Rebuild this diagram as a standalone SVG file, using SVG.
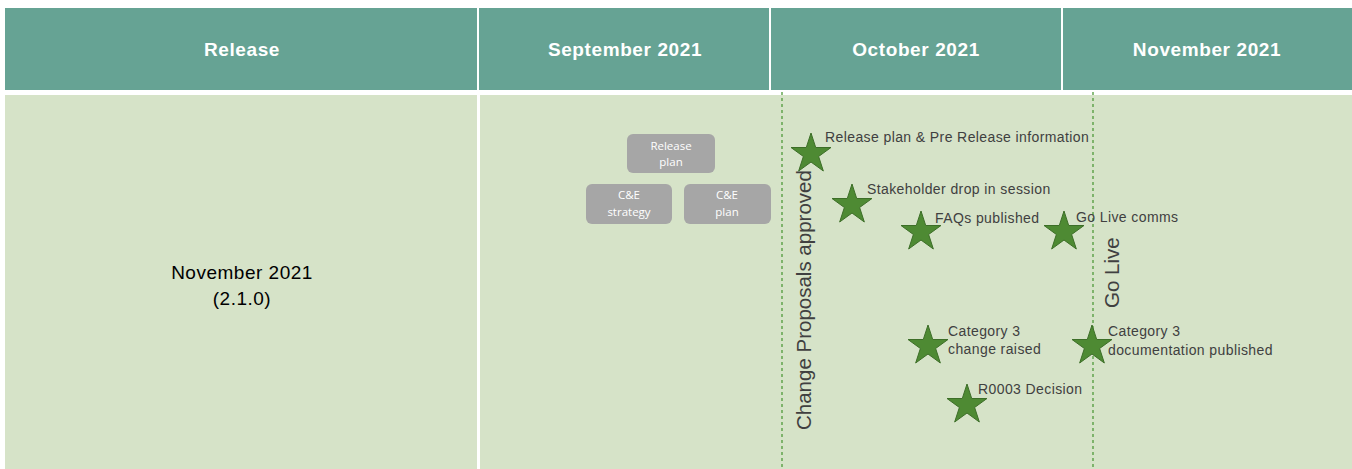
<svg xmlns="http://www.w3.org/2000/svg" xmlns:xlink="http://www.w3.org/1999/xlink" width="1352" height="469" viewBox="0 0 1352 469">
<style>
.hdr{fill:#66a394}
.body{fill:#d6e3c8}
.ht{font-family:"Liberation Sans",Arial,sans-serif;font-weight:bold;font-size:19px;letter-spacing:0.6px;fill:#ffffff;text-anchor:middle}
.lbl{font-family:"Liberation Sans",Arial,sans-serif;font-size:14px;letter-spacing:0.4px;fill:#404040}
.vt{font-family:"Liberation Sans",Arial,sans-serif;font-size:20.5px;fill:#404040}
.box{fill:#a6a6a6}
.bt{font-family:"Open Sans","Liberation Sans",sans-serif;font-size:11.5px;fill:#ffffff;text-anchor:middle}
.dash{stroke:#4f9a3a;stroke-width:1.3;stroke-dasharray:3,3;fill:none}
.star{fill:#4e8a33;stroke:#3d6e28;stroke-width:1}
.rel{font-family:"Liberation Sans",Arial,sans-serif;font-size:19px;letter-spacing:0.5px;fill:#000000;text-anchor:middle}
</style>
<defs>
<path id="star" d="M0,-21 L4.71,-6.49 L19.97,-6.49 L7.63,2.48 L12.34,16.99 L0,8.02 L-12.34,16.99 L-7.63,2.48 L-19.97,-6.49 L-4.71,-6.49 Z"/>
</defs>
<rect width="1352" height="469" fill="#ffffff"/>
<g id="header">
<rect class="hdr" x="5" y="8" width="472" height="82"/>
<rect class="hdr" x="479" y="8" width="290" height="82"/>
<rect class="hdr" x="771" y="8" width="290" height="82"/>
<rect class="hdr" x="1063" y="8" width="289" height="82"/>
<text class="ht" x="242" y="56">Release</text>
<text class="ht" x="625" y="56">September 2021</text>
<text class="ht" x="916" y="56">October 2021</text>
<text class="ht" x="1207" y="56">November 2021</text>
</g>
<g id="rows">
<rect class="body" x="5" y="95" width="472" height="374"/>
<rect class="body" x="480" y="95" width="872" height="374"/>
<text class="rel" x="242" y="279">November 2021</text>
<text class="rel" x="242" y="305">(2.1.0)</text>
</g>
<g id="boxes">
<g id="release-plan"><rect class="box" x="627" y="134" width="88" height="39" rx="6"/><text class="bt" x="671" y="150">Release</text><text class="bt" x="671" y="166">plan</text></g>
<g id="ce-strategy"><rect class="box" x="586" y="184" width="86" height="40" rx="6"/><text class="bt" x="629" y="199">C&amp;E</text><text class="bt" x="629" y="216">strategy</text></g>
<g id="ce-plan"><rect class="box" x="684" y="184" width="87" height="40" rx="6"/><text class="bt" x="727" y="199">C&amp;E</text><text class="bt" x="727" y="216">plan</text></g>
</g>
<g id="connectors">
<line class="dash" x1="782" y1="92" x2="782" y2="469"/>
<line class="dash" x1="1093" y1="92" x2="1093" y2="469"/>
</g>
<g id="milestones">
<text class="vt" transform="translate(811,430) rotate(-90)">Change Proposals approved</text>
<text class="vt" transform="translate(1119,308) rotate(-90)">Go Live</text>
<g id="m1"><use href="#star" class="star" x="811" y="154"/><text class="lbl" x="825" y="142">Release plan &amp; Pre Release information</text></g>
<g id="m2"><use href="#star" class="star" x="852" y="205"/><text class="lbl" x="867" y="194">Stakeholder drop in session</text></g>
<g id="m3"><use href="#star" class="star" x="921" y="232"/><text class="lbl" x="935" y="223">FAQs published</text></g>
<g id="m4"><use href="#star" class="star" x="1064" y="232"/><text class="lbl" x="1076" y="222">Go Live comms</text></g>
<g id="m5"><use href="#star" class="star" x="928" y="346"/><text class="lbl" x="948" y="336">Category 3</text><text class="lbl" x="948" y="354">change raised</text></g>
<g id="m6"><use href="#star" class="star" x="1092" y="346"/><text class="lbl" x="1108" y="336">Category 3</text><text class="lbl" x="1108" y="355">documentation published</text></g>
<g id="m7"><use href="#star" class="star" x="967" y="405"/><text class="lbl" x="978" y="394">R0003 Decision</text></g>
</g>
</svg>
